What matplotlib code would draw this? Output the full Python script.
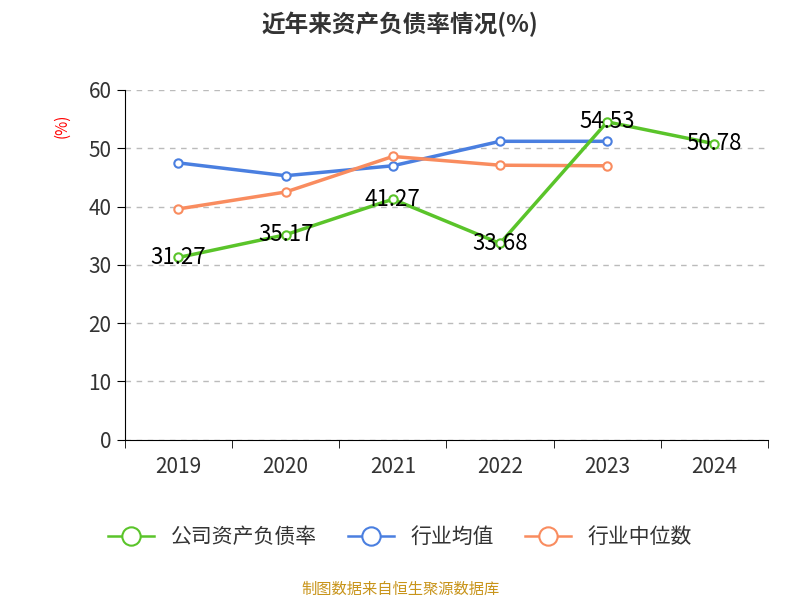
import matplotlib.pyplot as plt
import numpy as np

plt.rcParams["font.family"] = ["Noto Sans CJK SC", "Noto Sans CJK JP", "Noto Sans CJK TC", "DejaVu Sans"]

years = ["2019", "2020", "2021", "2022", "2023", "2024"]
company = [31.27, 35.17, 41.27, 33.68, 54.53, 50.78]
ind_mean = [47.5, 45.3, 47.0, 51.2, 51.2]
ind_median = [39.6, 42.5, 48.6, 47.1, 47.0]

fig = plt.figure(figsize=(8, 6), dpi=100)
ax = fig.add_axes([0.156, 0.267, 0.804, 0.583])

x = np.arange(len(years))
ax.plot(x[:5], ind_mean, color="#4a7fe0", lw=2.5, marker="o", ms=6,
        mfc="white", mew=1.5, label="行业均值", zorder=3)
ax.plot(x[:5], ind_median, color="#f98c5f", lw=2.5, marker="o", ms=6,
        mfc="white", mew=1.5, label="行业中位数", zorder=3)
ax.plot(x, company, color="#5ac42a", lw=2.5, marker="o", ms=6,
        mfc="white", mew=1.5, label="公司资产负债率", zorder=4)
for xi, v in zip(x, company):
    ax.text(xi, v, f"{v:.2f}", ha="center", va="center", fontsize=16, zorder=5)

ax.set_xlim(-0.5, 5.5)
ax.set_ylim(0, 60)
ax.set_yticks(range(0, 61, 10))
ax.set_xticks(x)
ax.set_xticklabels(years)
ax.set_xticks(np.arange(-0.5, 6, 1), minor=True)
ax.tick_params(axis="x", which="major", length=0, pad=12, labelsize=15, labelcolor="#333333")
ax.tick_params(axis="x", which="minor", length=6)
ax.tick_params(axis="y", length=6, labelsize=15, labelcolor="#333333")
ax.yaxis.grid(True, ls=(0, (4, 4)), color="#bbbbbb", lw=1)
for s in ["top", "right"]:
    ax.spines[s].set_visible(False)

fig.text(0.5, 0.96, "近年来资产负债率情况(%)", ha="center", va="center",
         fontsize=17, fontweight="bold", color="#333333")
fig.text(0.078, 0.79, "(%)", rotation=90, color="red", fontsize=11, ha="center", va="center")

h, l = ax.get_legend_handles_labels()
order = [2, 0, 1]
leg = fig.legend([h[i] for i in order], [l[i] for i in order], loc="center",
                 bbox_to_anchor=(0.5, 0.105), ncol=3, frameon=False, fontsize=15,
                 handlelength=2.2, columnspacing=1.5, labelcolor="#333333",
                 markerscale=2.2)
for ln in leg.get_lines():
    ln.set_linewidth(1.8)
fig.text(0.5, 0.017, "制图数据来自恒生聚源数据库", ha="center", va="center",
         fontsize=11, color="#c8941a")

fig.savefig("out.png")
